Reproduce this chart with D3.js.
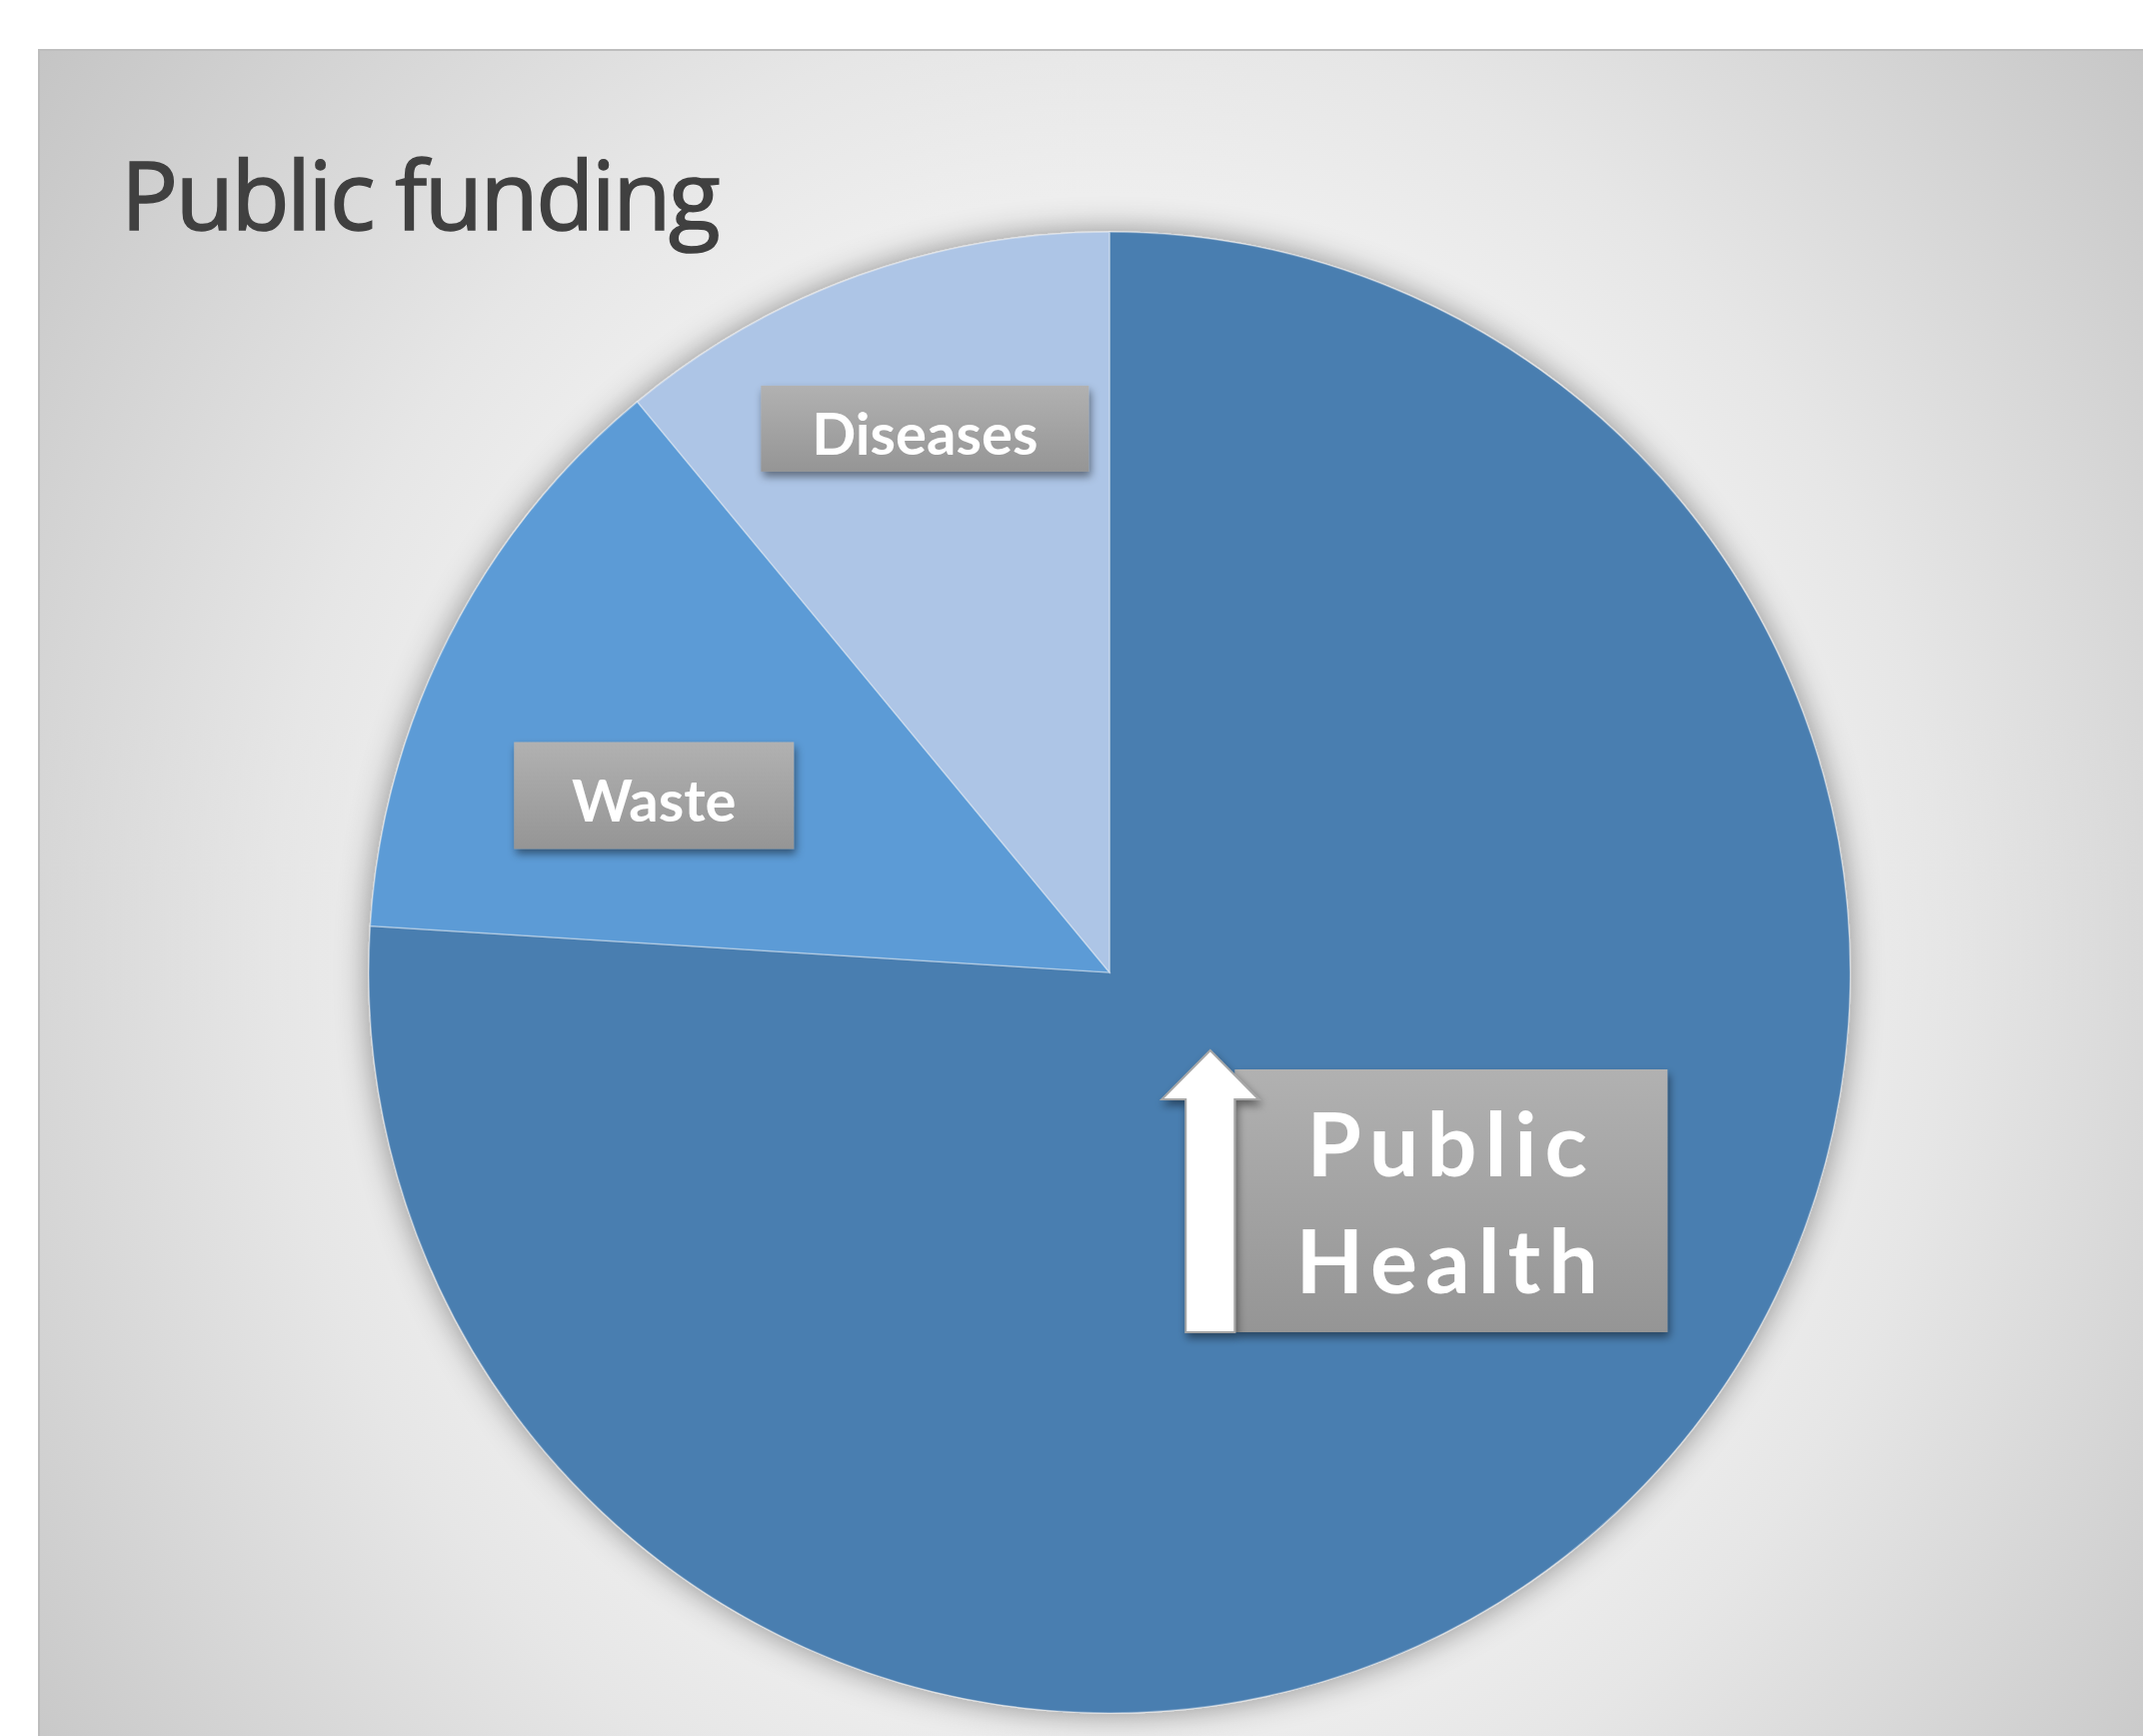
<!DOCTYPE html>
<html>
<head>
<meta charset="utf-8">
<title>Public funding</title>
<style>
body { margin: 0; background: #fff; }
svg { display: block; }
.title { font-family: "Open Sans", sans-serif; fill: #404040; stroke: #404040; stroke-width: 1.6; }
.lbl { font-family: Lato, sans-serif; font-weight: 700; fill: #fff; }
</style>
</head>
<body>
<div id="chart"></div>
<script src="https://d3js.org/d3.v7.min.js"></script>
<script>

// data (share of the pie, %)
const categories = ["Public Health", "Waste", "Diseases"];
const values = [76, 13, 11];
const labelLines = [["Public", "Health"], ["Waste"], ["Diseases"]];
const chartTitle = "Public funding";

const width = 2144, height = 1737;
const cx = 1110, cy = 973, radius = 741;

const colors = d3.scaleOrdinal()
	.domain(categories)
	.range(["#4a7eb0", "#5b9bd6", "#adc5e6"]);

const svg = d3.select('#chart').append('svg')
	.attr('width', width)
	.attr('height', height);

const defs = svg.append('defs');

// chart area background, radial light in the middle
const bg = defs.append('radialGradient')
	.attr('id', 'bg')
	.attr('gradientUnits', 'userSpaceOnUse')
	.attr('cx', cx).attr('cy', cy - 20).attr('r', 1350)
	.attr('gradientTransform', `translate(${cx},${cy}) scale(1,1.12) translate(${-cx},${-cy})`);
[[0, '#f3f3f3'], [0.5, '#eeeeee'], [0.62, '#e6e6e6'], [0.8, '#d6d6d6'], [1, '#c4c4c4']]
	.forEach(s => bg.append('stop').attr('offset', s[0]).attr('stop-color', s[1]));

// grey label boxes
const box = defs.append('linearGradient')
	.attr('id', 'box')
	.attr('x1', 0).attr('y1', 0).attr('x2', 0).attr('y2', 1);
box.append('stop').attr('offset', 0).attr('stop-color', '#b1b1b1');
box.append('stop').attr('offset', 1).attr('stop-color', '#959595');

defs.append('filter').attr('id', 'pieShadow')
	.attr('x', '-10%').attr('y', '-10%').attr('width', '120%').attr('height', '120%')
	.append('feDropShadow')
	.attr('dx', 0).attr('dy', 0).attr('stdDeviation', 16)
	.attr('flood-color', '#000').attr('flood-opacity', 0.42);

defs.append('filter').attr('id', 'boxShadow')
	.attr('x', '-20%').attr('y', '-20%').attr('width', '140%').attr('height', '150%')
	.append('feDropShadow')
	.attr('dx', 2).attr('dy', 5).attr('stdDeviation', 4)
	.attr('flood-color', '#000').attr('flood-opacity', 0.45);

// chart area
svg.append('rect')
	.attr('x', 39).attr('y', 50)
	.attr('width', width - 39 + 2).attr('height', height - 50 + 2)
	.attr('fill', 'url(#bg)')
	.attr('stroke', '#bdbdbd')
	.attr('stroke-width', 2);

svg.append('text')
	.attr('class', 'title')
	.attr('x', 121)
	.attr('y', 230)
	.attr('font-size', 95)
	.attr('letter-spacing', -2.5)
	.text(chartTitle);

// pie
const pie = d3.pie().sort(null).value(d => d.value);
const arc = d3.arc().innerRadius(0).outerRadius(radius);
const arcs = pie(categories.map((c, i) => ({ name: c, value: values[i], lines: labelLines[i] })));

const g = svg.append('g')
	.attr('transform', `translate(${cx},${cy})`);

g.append('g')
	.attr('filter', 'url(#pieShadow)')
	.selectAll('path')
	.data(arcs)
	.join('path')
	.attr('d', arc)
	.attr('fill', d => colors(d.data.name))
	.attr('stroke', 'rgba(255,255,255,0.35)')
	.attr('stroke-width', 1.5);

// data labels (moved by hand in the original, so nudged from the centroid)
const labelArc = d3.arc().innerRadius(radius * 0.66).outerRadius(radius * 0.66);
const nudge = { "Public Health": [7, -128], "Waste": [-20, 45], "Diseases": [-19, -84] };
const boxSize = { "Public Health": [433, 263], "Waste": [280, 107], "Diseases": [328, 86] };

arcs.forEach(d => {
	const c = labelArc.centroid(d);
	const n = nudge[d.data.name];
	const s = boxSize[d.data.name];
	const x0 = c[0] + n[0] - s[0] / 2;
	const y0 = c[1] + n[1] - s[1] / 2;
	const big = d.data.lines.length > 1;

	const lg = g.append('g');
	lg.append('rect')
		.attr('x', x0).attr('y', y0)
		.attr('width', s[0]).attr('height', s[1])
		.attr('fill', 'url(#box)')
		.attr('filter', 'url(#boxShadow)');

	const fs = big ? 88 : 58;
	const t = lg.append('text')
		.attr('class', 'lbl')
		.attr('font-size', fs)
		.attr('text-anchor', 'middle')
		.attr('letter-spacing', big ? 8 : 0);
	d.data.lines.forEach((line, i) => {
		t.append('tspan')
			.attr('x', x0 + s[0] / 2)
			.attr('y', big ? y0 + 107 + i * 117 : y0 + s[1] / 2 + fs * 0.36 + 5)
			.text(line);
	});

	// white "up" arrow beside the Public Health box
	if (big) {
		const sw = 49, hw = 48.5;
		const mx = x0 - sw / 2;
		const pts = [
			[x0 - sw, y0 + s[1]], [x0 - sw, y0 + 30], [mx - hw, y0 + 30], [mx, y0 - 19],
			[mx + hw, y0 + 30], [x0, y0 + 30], [x0, y0 + s[1]]
		];
		lg.append('path')
			.attr('d', d3.line()(pts) + 'Z')
			.attr('fill', '#fff')
			.attr('stroke', '#a6a6a6')
			.attr('stroke-width', 2)
			.attr('filter', 'url(#boxShadow)');
	}
});

</script>
</body>
</html>
